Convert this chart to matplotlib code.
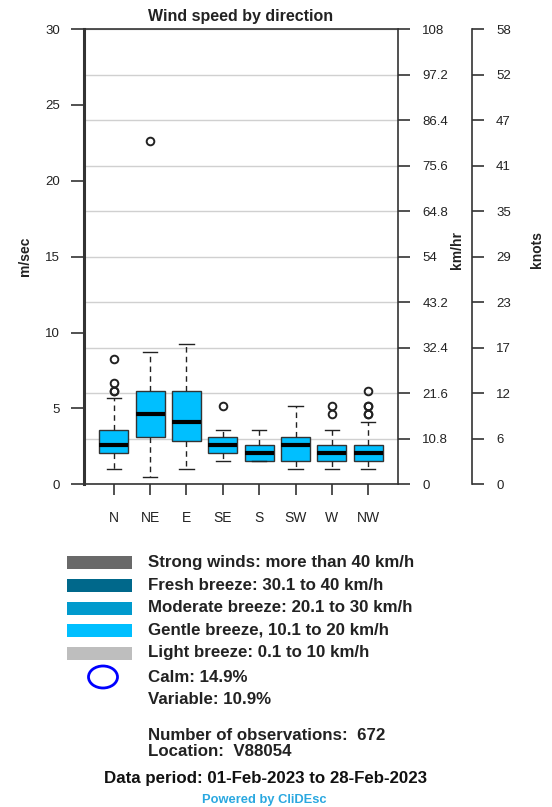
import matplotlib
matplotlib.use("Agg")
import matplotlib.pyplot as plt
from matplotlib.patches import Rectangle, Ellipse
from matplotlib.ticker import FixedLocator

plt.rcParams['font.family'] = ['Liberation Sans', 'DejaVu Sans']

directions = ["N", "NE", "E", "SE", "S", "SW", "W", "NW"]

# wind speed statistics per direction (m/s)
whis_lo = [1.03, 0.51, 1.03, 1.54, 1.54, 1.03, 1.03, 1.03]
q1 = [2.06, 3.09, 2.83, 2.06, 1.54, 1.54, 1.54, 1.54]
medians = [2.57, 4.63, 4.12, 2.57, 2.06, 2.57, 2.06, 2.06]
q3 = [3.60, 6.17, 6.17, 3.09, 2.57, 3.09, 2.57, 2.57]
whis_hi = [5.66, 8.75, 9.26, 3.60, 3.60, 5.14, 3.60, 4.12]
outliers = [[6.17, 6.17, 6.69, 8.23], [22.64], [], [5.14], [], [],
            [4.63, 5.14], [4.63, 4.63, 5.14, 5.14, 6.17]]

ms_ticks = [0, 5, 10, 15, 20, 25, 30]
conv_ticks = [0, 3, 6, 9, 12, 15, 18, 21, 24, 27, 30]
kmh_labels = ["0", "10.8", "21.6", "32.4", "43.2", "54", "64.8", "75.6", "86.4", "97.2", "108"]
knot_labels = ["0", "6", "12", "17", "23", "29", "35", "41", "47", "52", "58"]

legend_labels = ["Strong winds: more than 40 km/h",
                 "Fresh breeze: 30.1 to 40 km/h",
                 "Moderate breeze: 20.1 to 30 km/h",
                 "Gentle breeze, 10.1 to 20 km/h",
                 "Light breeze: 0.1 to 10 km/h"]
legend_colors = ["#696969", "#00688B", "#009ACD", "#00BFFF", "#BEBEBE"]
calm_pct = 14.9
variable_pct = 10.9
n_obs = 672
location = "V88054"
period = "01-Feb-2023 to 28-Feb-2023"

W, H = 552, 807
fig = plt.figure(figsize=(W / 100, H / 100), dpi=100)

def fx(px):
    return px / W

def fy(py):
    return 1 - py / H

ax = fig.add_axes([fx(84), fy(484.3), fx(398 - 84), (484.3 - 29) / H])
txt = "#222222"
tick_fs = 9.5
info_fs = 12.2

stats = []
for i, d in enumerate(directions):
    stats.append(dict(label=d, whislo=whis_lo[i], q1=q1[i], med=medians[i],
                      q3=q3[i], whishi=whis_hi[i], fliers=outliers[i]))

ax.bxp(stats, positions=range(1, 9), widths=0.8, patch_artist=True,
       boxprops=dict(facecolor="#00BFFF", edgecolor="#333333", linewidth=1.0),
       medianprops=dict(color="black", linewidth=3),
       whiskerprops=dict(color="#222222", linestyle=(0, (4, 3)), linewidth=1.0),
       capprops=dict(color="#222222", linewidth=1.0),
       flierprops=dict(marker="o", markerfacecolor="none", markeredgecolor="#222222",
                       markersize=5.5, markeredgewidth=1.4),
       zorder=3)

ax.set_xlim(0.18, 8.82)
ax.set_ylim(0, 30)
ax.set_yticks(ms_ticks)
ax.yaxis.set_minor_locator(FixedLocator(conv_ticks))
ax.yaxis.remove_overlapping_locs = False
ax.grid(which="minor", axis="y", color="#d0d0d0", linewidth=1.0)
ax.set_axisbelow(True)
ax.tick_params(axis="y", which="minor", length=0)
ax.tick_params(axis="y", which="major", length=9.4, width=1.2, pad=8,
               labelsize=tick_fs, labelcolor=txt, color="#333333")
ax.tick_params(axis="x", length=8, width=1.2, pad=11, labelsize=10,
               labelcolor=txt, color="#333333")

ax.spines["left"].set_linewidth(2.2)
ax.spines["left"].set_color("#333333")
ax.spines["top"].set_linewidth(1.2)
ax.spines["top"].set_color("#333333")
ax.spines["bottom"].set_linewidth(1.2)
ax.spines["bottom"].set_color("#333333")
ax.spines["right"].set_visible(False)

# km/h axis
ax2 = ax.twinx()
ax2.set_ylim(0, 30)
ax2.set_yticks(conv_ticks)
ax2.set_yticklabels(kmh_labels)
for s in ["left", "top", "bottom"]:
    ax2.spines[s].set_visible(False)
ax2.spines["right"].set_linewidth(1.2)
ax2.spines["right"].set_color("#333333")
ax2.tick_params(axis="y", length=8.6, width=1.2, pad=9, labelsize=tick_fs,
                labelcolor=txt, color="#333333")

# knots axis
ax3 = ax.twinx()
ax3.set_ylim(0, 30)
ax3.set_yticks(conv_ticks)
ax3.set_yticklabels(knot_labels)
for s in ["left", "top", "bottom"]:
    ax3.spines[s].set_visible(False)
ax3.spines["right"].set_position(("outward", 74 * 0.72))
ax3.spines["right"].set_linewidth(1.2)
ax3.spines["right"].set_color("#333333")
ax3.tick_params(axis="y", length=8.3, width=1.2, pad=9, labelsize=tick_fs,
                labelcolor=txt, color="#333333")

fig.text(fx(241), fy(17), "Wind speed by direction", ha="center", va="center",
         fontsize=11.5, fontweight="bold", color=txt)
fig.text(fx(25), fy(256), "m/sec", rotation=90, ha="center", va="center",
         fontsize=10, fontweight="bold", color=txt)
fig.text(fx(457), fy(250), "km/hr", rotation=90, ha="center", va="center",
         fontsize=10, fontweight="bold", color=txt)
fig.text(fx(537), fy(250), "knots", rotation=90, ha="center", va="center",
         fontsize=10, fontweight="bold", color=txt)

# legend block
row_y = [562, 585, 608, 630, 653]
for yy, lab, col in zip(row_y, legend_labels, legend_colors):
    fig.patches.append(Rectangle((fx(67), fy(yy + 6.5)), fx(65), 13 / H,
                                 transform=fig.transFigure, facecolor=col,
                                 edgecolor="none"))
    fig.text(fx(148), fy(yy), lab, ha="left", va="center", fontsize=info_fs,
             fontweight="bold", color=txt)

fig.patches.append(Ellipse((fx(103), fy(677)), fx(29), 22 / H,
                           transform=fig.transFigure, facecolor="none",
                           edgecolor="#0000FF", linewidth=2))
fig.text(fx(148), fy(677), f"Calm: {calm_pct}%", ha="left", va="center",
         fontsize=info_fs, fontweight="bold", color=txt)
fig.text(fx(148), fy(700), f"Variable: {variable_pct}%", ha="left", va="center",
         fontsize=info_fs, fontweight="bold", color=txt)

fig.text(fx(148), fy(736), f"Number of observations:  {n_obs}", ha="left",
         va="center", fontsize=info_fs, fontweight="bold", color=txt)
fig.text(fx(148), fy(752), f"Location:  {location}", ha="left",
         va="center", fontsize=info_fs, fontweight="bold", color=txt)
fig.text(fx(266), fy(779), f"Data period: {period}", ha="center",
         va="center", fontsize=info_fs, fontweight="bold", color="#111111")
fig.text(fx(264), fy(800), "Powered by CliDEsc", ha="center", va="center",
         fontsize=9.3, fontweight="bold", color="#2AA8E0")

fig.savefig("out.png", dpi=100)
